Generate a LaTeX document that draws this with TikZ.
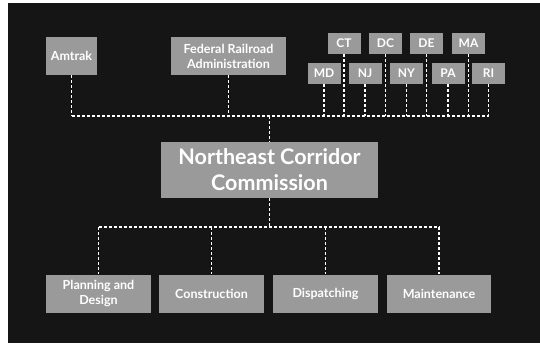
\documentclass[tikz,border=0pt]{standalone}
\usepackage{fontspec}
\setmainfont{Lato}
\definecolor{slate}{HTML}{151515}
\definecolor{boxgray}{HTML}{9A9A9A}
\tikzset{
  orgbox/.style={fill=boxgray,text=white,font=\bfseries\fontsize{12.5}{15}\selectfont,
    align=center,inner sep=0pt,minimum height=38pt},
  statebox/.style={fill=boxgray,text=white,font=\bfseries\fontsize{12}{13}\selectfont,
    inner sep=0pt,minimum width=33pt,minimum height=21pt},
  headbox/.style={fill=boxgray,text=white,font=\bfseries\fontsize{21.5}{26}\selectfont,
    align=center,inner sep=0pt,minimum width=217pt,minimum height=56pt},
  link/.style={white,line width=1.1pt,dash pattern=on 3pt off 2pt}
}
\begin{document}
\begin{tikzpicture}[x=1pt,y=-1pt]
				\useasboundingbox (0,0) rectangle (540,343);
				\fill[slate] (8,3) rectangle (540,343);
				% funding partners
				\node[orgbox,minimum width=51pt] (amtrak) at (71.5,56) {Amtrak};
				\node[orgbox,minimum width=115pt] (fra) at (228.5,56) {Federal Railroad\\Administration};
				\node[statebox] (ct) at (344,43.5) {CT};
				\node[statebox] (dc) at (385.5,43.5) {DC};
				\node[statebox] (de) at (426.5,43.5) {DE};
				\node[statebox] (ma) at (468.5,43.5) {MA};
				\node[statebox] (md) at (324,73.5) {MD};
				\node[statebox] (nj) at (365,73.5) {NJ};
				\node[statebox] (ny) at (406.5,73.5) {NY};
				\node[statebox] (pa) at (448,73.5) {PA};
				\node[statebox] (ri) at (488.5,73.5) {RI};
				% commission
				\node[headbox] (nec) at (269.5,170) {Northeast Corridor\\Commission};
				% committees
				\node[orgbox,minimum width=105pt] (plan) at (98.5,293.5) {Planning and\\Design};
				\node[orgbox,minimum width=105pt] (cons) at (211.5,293.5) {Construction};
				\node[orgbox,minimum width=105pt] (disp) at (325.5,293.5) {Dispatching};
				\node[orgbox,minimum width=104pt] (maint) at (439,293.5) {Maintenance};
				\coordinate (topbus) at (269.5,116);
				\coordinate (botbus) at (269.5,227);
				\draw[link] (amtrak.south |- topbus) -- (ri.south |- topbus);
				\foreach \n in {amtrak,fra,ct,dc,de,ma,md,nj,ny,pa,ri}
					\draw[link] (\n.south) -- (\n.south |- topbus);
				\draw[link] (topbus) -- (nec.north);
				\draw[link] (nec.south) -- (botbus);
				\draw[link] (plan.north |- botbus) -- (maint.north |- botbus);
				\foreach \n in {plan,cons,disp,maint}
					\draw[link] (\n.north |- botbus) -- (\n.north);
			\end{tikzpicture}
\end{document}
